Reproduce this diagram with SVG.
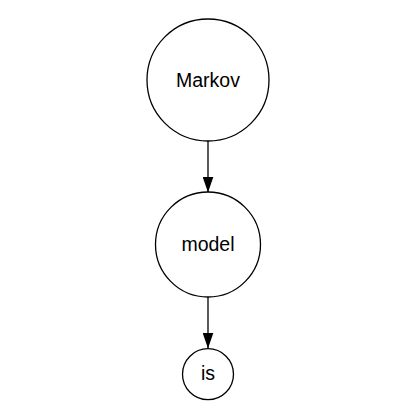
<svg xmlns="http://www.w3.org/2000/svg" width="415" height="418" viewBox="0 0 415 418">
<style>
.node circle{fill:#fff;stroke:#000;stroke-width:1.3}
.node text{font-family:"Liberation Sans",Arial,sans-serif;font-size:19.5px;fill:#000;text-anchor:middle}
.edge{stroke:#000;stroke-width:1.3;fill:none}
</style>
<defs>
<marker id="arr" markerUnits="userSpaceOnUse" markerWidth="16" markerHeight="11" refX="16" refY="5.5" viewBox="0 0 16 11" orient="auto">
<path d="M0,0 L16,5.5 L0,11 Z" fill="#000"/>
</marker>
</defs>
<rect width="415" height="418" fill="#fff"/>
<g id="connectors">
<line class="edge" x1="208" y1="141" x2="208" y2="192.5" marker-end="url(#arr)"/>
<line class="edge" x1="208" y1="297" x2="208" y2="348.5" marker-end="url(#arr)"/>
</g>
<g id="node-markov" class="node">
<circle cx="208" cy="80" r="61"/>
<text x="208" y="87">Markov</text>
</g>
<g id="node-model" class="node">
<circle cx="208" cy="244.5" r="52.5"/>
<text x="208" y="250.5">model</text>
</g>
<g id="node-is" class="node">
<circle cx="208" cy="374.2" r="25.5"/>
<text x="208" y="380">is</text>
</g>
</svg>
